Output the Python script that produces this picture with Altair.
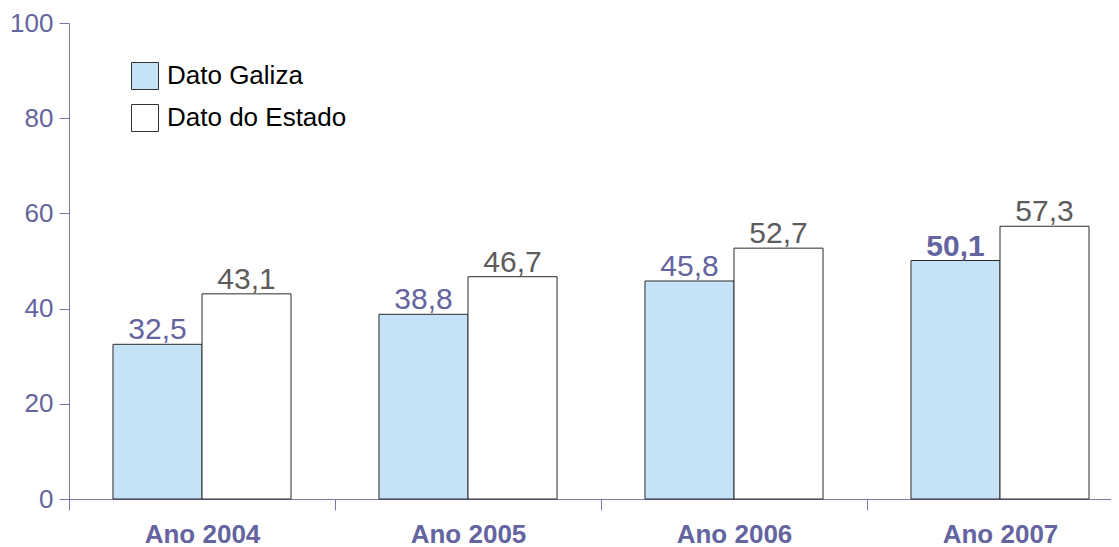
import altair as alt
import pandas as pd

years = ["Ano 2004", "Ano 2005", "Ano 2006", "Ano 2007"]
series = ["Dato Galiza", "Dato do Estado"]
galiza = [32.5, 38.8, 45.8, 50.1]
estado = [43.1, 46.7, 52.7, 57.3]
y_ticks = [0, 20, 40, 60, 80, 100]

rows = []
for i, y in enumerate(years):
    for s, vals in zip(series, [galiza, estado]):
        rows.append({"year": y, "serie": s, "value": vals[i],
                     "label": f"{vals[i]:.1f}".replace(".", ",")})
df = pd.DataFrame(rows)

FONT = "Liberation Sans"
AXIS_COLOR = "#7878a8"
LABEL_PURPLE = "#6464a0"

x_enc = alt.X("year:N", sort=years,
              scale=alt.Scale(paddingInner=0, paddingOuter=0),
              axis=alt.Axis(title=None, labelAngle=0, labelFont=FONT, labelFontSize=26,
                            labelFontWeight="bold", labelColor=LABEL_PURPLE,
                            domainColor=AXIS_COLOR, tickColor=AXIS_COLOR, tickSize=11,
                            tickBand="extent", labelPadding=11, labelBaseline="top",
                            labelLimit=0))
y_enc = alt.Y("value:Q", scale=alt.Scale(domain=[0, 100], nice=False),
              axis=alt.Axis(title=None, values=y_ticks, grid=False, labelFont=FONT,
                            labelFontSize=26, labelColor=LABEL_PURPLE,
                            domainColor=AXIS_COLOR, tickColor=AXIS_COLOR, tickSize=10,
                            labelPadding=6))
xoff = alt.XOffset("serie:N", sort=series,
                   scale=alt.Scale(paddingInner=0, paddingOuter=0.494))

base = alt.Chart(df)

bars = base.mark_bar(stroke="#2a2a2a", strokeWidth=1).encode(
    x=x_enc, y=y_enc, xOffset=xoff,
    color=alt.Color("serie:N", sort=series,
                    scale=alt.Scale(domain=series, range=["#c6e2f7", "#ffffff"]),
                    legend=alt.Legend(title=None, orient="none", legendX=62, legendY=39,
                                      symbolType="square", symbolSize=729,
                                      symbolStrokeColor="#333333", symbolStrokeWidth=1,
                                      labelFont=FONT, labelFontSize=26, labelColor="#000000",
                                      labelOffset=8, rowPadding=10, padding=0,
                                      labelLimit=0)),
)

txt_color = alt.condition(alt.datum.serie == "Dato Galiza",
                          alt.value(LABEL_PURPLE), alt.value("#5c5c5c"))

is_bold = "datum.year == 'Ano 2007' && datum.serie == 'Dato Galiza'"

labels = base.transform_filter("!(" + is_bold + ")").mark_text(
    font=FONT, fontSize=30, baseline="alphabetic", dy=-5).encode(
    x=alt.X("year:N", sort=years), y="value:Q", xOffset=xoff, text="label:N", color=txt_color)

labels_bold = base.transform_filter(is_bold).mark_text(
    font=FONT, fontSize=30, fontWeight="bold", baseline="alphabetic", dy=-5).encode(
    x=alt.X("year:N", sort=years), y="value:Q", xOffset=xoff, text="label:N", color=txt_color)

chart = alt.layer(bars, labels, labels_bold).properties(
    width=1064, height=476,
    autosize=alt.AutoSizeParams(type="none"),
    padding={"left": 61, "top": 15, "right": -22, "bottom": 48},
    background="#ffffff",
).configure_view(stroke=None)

chart.save("out.html", embed_options={"renderer": "svg", "actions": False})
